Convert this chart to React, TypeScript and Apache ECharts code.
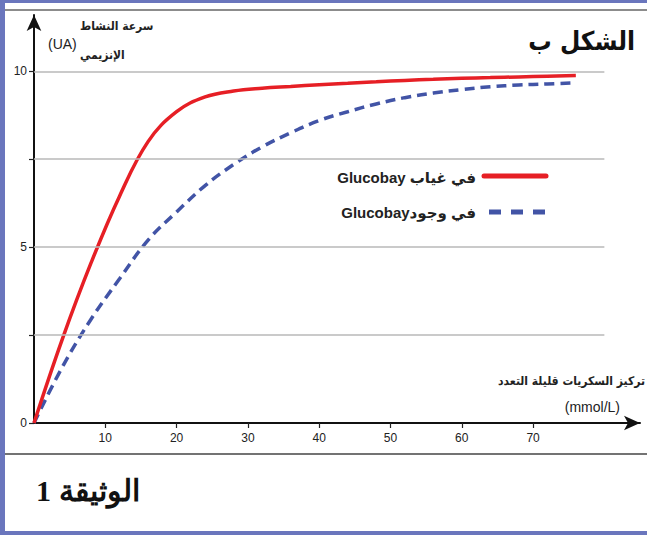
import React, { useEffect, useRef } from "react";
import * as echarts from "echarts";

const xLabels = [10, 20, 30, 40, 50, 60, 70];
const yLabels = [0, 5, 10];
const yTicks = [0, 2.5, 5, 7.5, 10];
const gridValues = [2.5, 5, 7.5, 10];

const concentrations = [0, 4, 8, 12, 16, 20, 24, 28, 32, 36, 40, 44, 48, 52, 56, 60, 64, 68, 72, 76];
const sansAct = [0, 2.4, 4.55, 6.45, 8.0, 8.85, 9.27, 9.44, 9.52, 9.57, 9.62, 9.66, 9.7, 9.74, 9.77, 9.8, 9.82, 9.84, 9.86, 9.88];
const avecAct = [0, 1.6, 2.95, 4.1, 5.2, 6.0, 6.75, 7.35, 7.85, 8.25, 8.6, 8.85, 9.07, 9.25, 9.38, 9.48, 9.56, 9.61, 9.64, 9.67];

const labelSans = "Glucobay في غياب";
const labelAvec = "Glucobayفي وجود";

export default function App() {
  const ref = useRef<HTMLDivElement>(null);
  useEffect(() => {
    if (!ref.current) return;
    const chart = echarts.init(ref.current, null, { renderer: "svg" });
    const numFont = "'Liberation Sans Narrow', 'Liberation Sans', Arial, sans-serif";
    const arFont = "'Liberation Sans', 'DejaVu Sans', sans-serif";
    const arCond = "'DejaVu Sans Condensed', 'DejaVu Sans', sans-serif";
    chart.setOption({
      animation: false,
      backgroundColor: "#ffffff",
      grid: { left: 34, right: 7, top: 15, bottom: 112 },
      xAxis: {
        type: "value",
        min: 0,
        max: 85,
        axisLine: {
          show: true,
          lineStyle: { color: "#111", width: 2 },
          symbol: ["none", "arrow"],
          symbolSize: [11, 16],
        },
        axisTick: { show: true, customValues: xLabels, length: 5, lineStyle: { color: "#222", width: 1.2 } },
        axisLabel: { customValues: xLabels, color: "#222", fontFamily: numFont, fontSize: 12, margin: 9 },
        splitLine: { show: false },
      },
      yAxis: {
        type: "value",
        min: 0,
        max: 11.6,
        axisLine: {
          show: true,
          lineStyle: { color: "#111", width: 2 },
          symbol: ["none", "arrow"],
          symbolSize: [11, 16],
        },
        axisTick: { show: true, customValues: yTicks, length: 5, lineStyle: { color: "#222", width: 1.2 } },
        axisLabel: { customValues: yLabels, color: "#222", fontFamily: numFont, fontSize: 12, margin: 7 },
        splitLine: { show: false },
      },
      series: [
        {
          type: "line",
          z: 1,
          data: [],
          silent: true,
          markLine: {
            silent: true,
            symbol: "none",
            label: { show: false },
            lineStyle: { color: "#b8b8b8", width: 1.5, type: "solid" },
            data: gridValues.map((v) => [{ coord: [0, v] }, { coord: [80, v] }]),
          },
        },
        {
          name: labelAvec,
          type: "line",
          z: 3,
          smooth: 0.4,
          showSymbol: false,
          data: concentrations.map((c, i) => [c, avecAct[i]]),
          lineStyle: { color: "#4254a6", width: 3.5, type: [10, 6] },
        },
        {
          name: labelSans,
          type: "line",
          z: 4,
          smooth: 0.4,
          showSymbol: false,
          data: concentrations.map((c, i) => [c, sansAct[i]]),
          lineStyle: { color: "#e61f25", width: 3.5 },
        },
      ],
      graphic: [
        { type: "rect", shape: { x: 0, y: 0, width: 5, height: 535 }, style: { fill: "#6a76bd" } },
        { type: "rect", shape: { x: 0, y: 0, width: 647, height: 3 }, style: { fill: "#6a76bd" } },
        { type: "rect", shape: { x: 0, y: 531, width: 647, height: 4 }, style: { fill: "#6a76bd" } },
        { type: "line", shape: { x1: 5, y1: 10, x2: 647, y2: 10 }, style: { stroke: "#666", lineWidth: 1.5 } },
        { type: "line", shape: { x1: 5, y1: 454, x2: 647, y2: 454 }, style: { stroke: "#444", lineWidth: 1.5 } },
        {
          type: "text",
          x: 635,
          y: 41,
          style: { text: "الشكل ب", fill: "#111", font: "bold 26px " + arCond, align: "right", verticalAlign: "middle" },
        },
        {
          type: "text",
          x: 80,
          y: 26,
          style: { text: "سرعة النشاط", fill: "#222", font: "bold 12px " + arCond, align: "left", verticalAlign: "middle" },
        },
        {
          type: "text",
          x: 80,
          y: 55,
          style: { text: "الإنزيمي", fill: "#222", font: "bold 12px " + arCond, align: "left", verticalAlign: "middle" },
        },
        {
          type: "text",
          x: 48,
          y: 44,
          style: { text: "(UA)", fill: "#222", font: "14px 'Liberation Sans Narrow', 'Liberation Sans', sans-serif", align: "left", verticalAlign: "middle" },
        },
        {
          type: "text",
          x: 645,
          y: 381,
          style: { text: "تركيز السكريات قليلة التعدد", fill: "#222", font: "bold 12px " + arCond, align: "right", verticalAlign: "middle" },
        },
        {
          type: "text",
          x: 620,
          y: 407,
          style: { text: "(mmol/L)", fill: "#222", font: "14px 'Liberation Sans Narrow', 'Liberation Sans', sans-serif", align: "right", verticalAlign: "middle" },
        },
        { type: "line", z: 10, shape: { x1: 484, y1: 176, x2: 546, y2: 176 }, style: { stroke: "#e61f25", lineWidth: 5, lineCap: "round" } },
        {
          type: "line",
          z: 10,
          shape: { x1: 489, y1: 212, x2: 550, y2: 212 },
          style: { stroke: "#4254a6", lineWidth: 5, lineDash: [12, 10], lineCap: "butt" },
        },
        {
          type: "text",
          x: 476,
          y: 177,
          style: { text: labelSans, fill: "#222", font: "bold 15px " + arFont, align: "right", verticalAlign: "middle" },
        },
        {
          type: "text",
          x: 476,
          y: 212,
          style: { text: labelAvec, fill: "#222", font: "bold 15px " + arFont, align: "right", verticalAlign: "middle" },
        },
        {
          type: "text",
          x: 36,
          y: 490,
          style: { text: "1 الوثيقة", fill: "#111", font: "bold 30px 'Liberation Serif', 'DejaVu Serif', serif", align: "left", verticalAlign: "middle" },
        },
      ],
    });
    return () => chart.dispose();
  }, []);
  return <div ref={ref} style={{ width: 647, height: 535, position: "absolute", left: 0, top: 0 }} />;
}
